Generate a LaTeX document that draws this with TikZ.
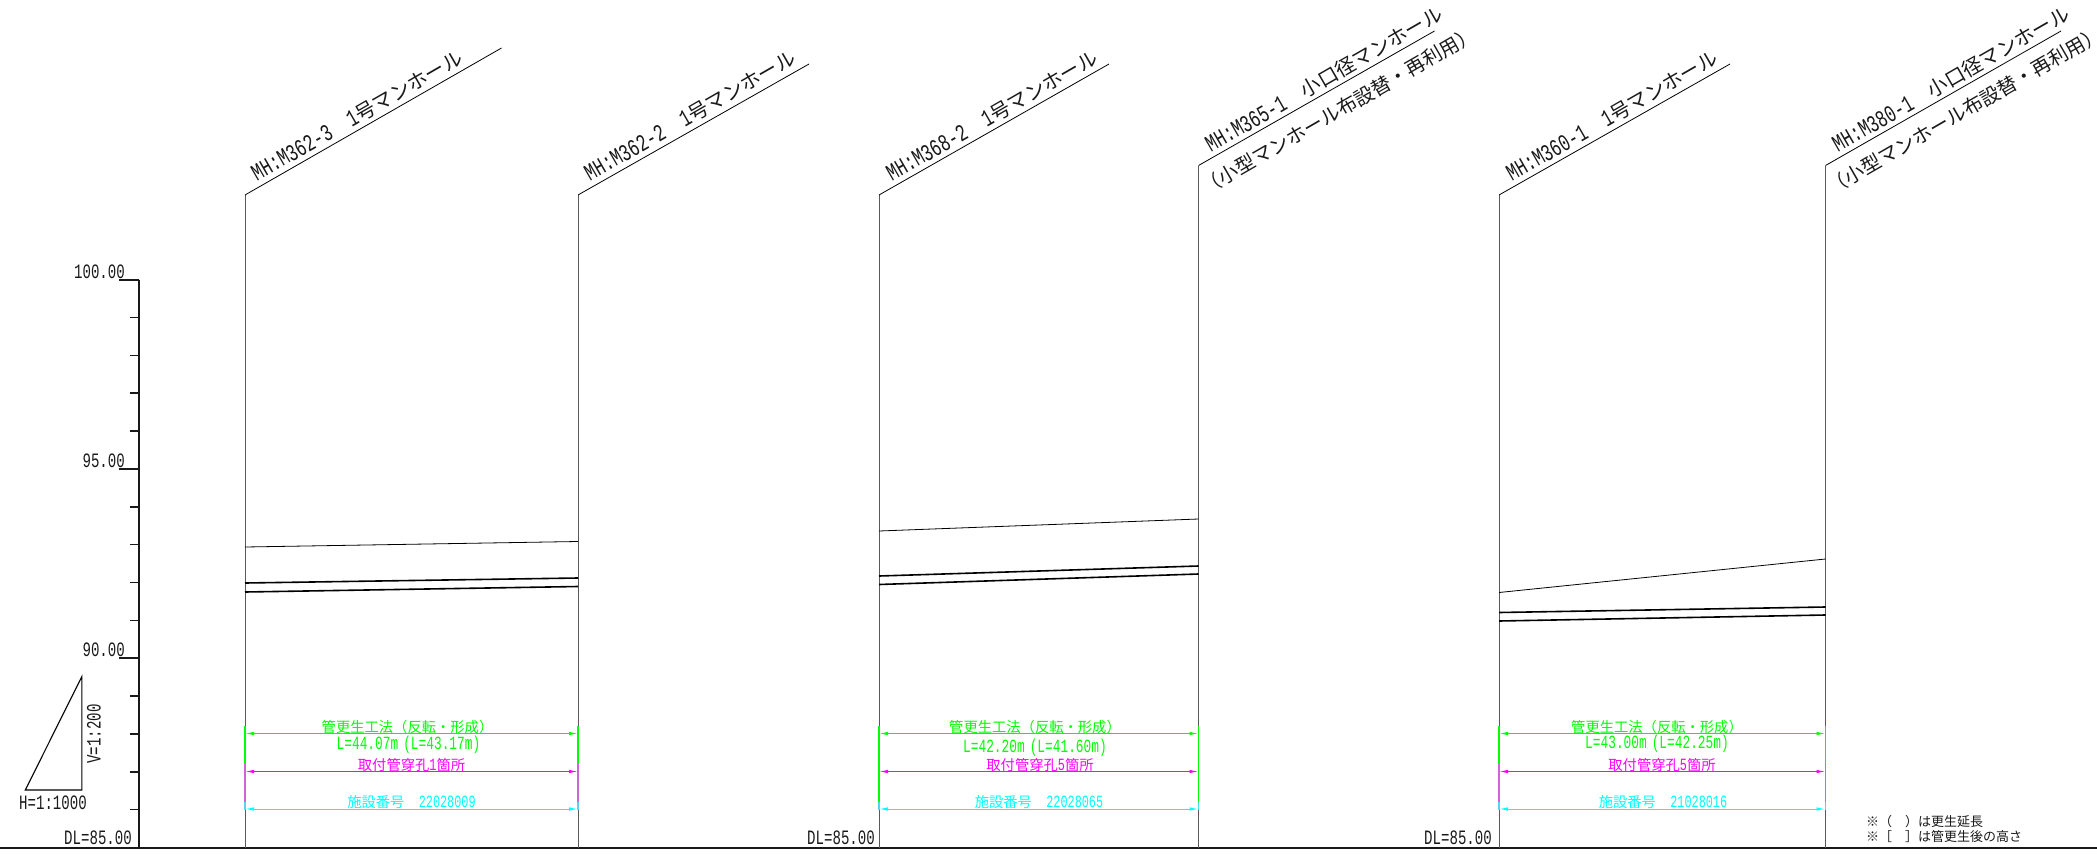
\documentclass[tikz,border=0pt]{standalone}
\usepackage{fontspec}
\usetikzlibrary{arrows.meta}
\setmainfont{Noto Sans CJK JP}
\newfontfamily\la[FakeStretch=0.69,Scale=1.2]{Liberation Mono}
\newcommand{\fsz}[1]{\fontsize{#1}{#1}\selectfont}
\definecolor{gr}{RGB}{0,255,0}
\definecolor{mg}{RGB}{255,0,255}
\definecolor{cy}{RGB}{0,255,255}
\definecolor{mgw}{RGB}{205,100,215}
\definecolor{cyw}{RGB}{80,215,240}
\tikzset{
 txt/.style={inner sep=0pt,text=black!90},
 mhlabel/.style={txt,rotate=30,anchor=base west,font=\fsz{20}},
 sublabel/.style={txt,rotate=30,anchor=center,font=\fsz{19.6}},
 axlabel/.style={txt,anchor=east,font=\fsz{17}\la},
 thin line/.style={line width=0.8pt,black},
 wall/.style={line width=1pt,black!65},
 pipe/.style={line width=1.6pt,black},
 gl/.style={line width=0.8pt,black},
 heavy/.style={line width=1.6pt,black!90},
 dim/.style={line width=1pt,{Latex[length=9pt,width=3.5pt]}-{Latex[length=9pt,width=3.5pt]}},
 ext/.style={line width=1.2pt},
 dt/.style={inner sep=0pt,font=\fsz{14.3}},
 dl/.style={inner sep=0pt,font=\fsz{15.5}\la},
 note/.style={txt,anchor=west,font=\fsz{13}},
}
\begin{document}
\begin{tikzpicture}[x=1pt,y=-1pt]
\useasboundingbox (0,0) rectangle (2097,854);
% baseline and axis
\coordinate (bl) at (0,848); \coordinate (br) at (2097,848);
\draw[heavy] (bl) -- (br);
\coordinate (axt) at (139,279.7); \coordinate (axb) at (139,848);
\draw[heavy] (axt) -- (axb);
\foreach \k/\xs in {0/119,1/130,2/130,3/130,4/130,5/119,6/130,7/130,8/130,9/130,10/119,11/130,12/130,13/130,14/130}{
  \coordinate (tk\k) at (\xs,279.7+37.85*\k);
  \coordinate (tke\k) at (139,279.7+37.85*\k);
  \draw[heavy] (tk\k) -- (tke\k);
}
\node[axlabel] (l100) at (125,271.5) {100.00};
\node[axlabel] (l95) at (125,460.7) {95.00};
\node[axlabel] (l90) at (125,650) {90.00};
\node[axlabel] (dl1) at (132,838) {DL=85.00};
\node[axlabel] (dl2) at (875,838) {DL=85.00};
\node[axlabel] (dl3) at (1492,838) {DL=85.00};
% scale triangle
\coordinate (ta) at (25.3,790); \coordinate (tb) at (81.8,676.7); \coordinate (tc) at (81.8,790);
\draw[line width=1.1pt] (ta) -- (tb) -- (tc) -- cycle;
\node[txt,font=\fsz{17}\la] (hs) at (53,802.7) {H=1:1000};
\node[txt,font=\fsz{17}\la,rotate=90] (vs) at (94,734) {V=1:200};
% manhole walls: x, top y, end
\foreach \n/\x/\ty/\ex/\ey in {a/245/195/501.5/48,b/578/195/809/64,c/879/195/1109/64,d/1198.5/165.5/1434.5/31,e/1499/195/1730/64,f/1825.5/165.5/2061/31}{
  \coordinate (\n b) at (\x,848);
  \coordinate (\n m) at (\x,\ty);
  \coordinate (\n e) at (\ex,\ey);
  \draw[wall] (\n b) -- (\n m);
  \draw[thin line] (\n m) -- (\n e);
}
% labels
\node[mhlabel] (ma) at (257,182) {{\la MH:M362-3}　{\la 1}号マンホール};
\node[mhlabel] (mb) at (590,182) {{\la MH:M362-2}　{\la 1}号マンホール};
\node[mhlabel] (mc) at (892,182) {{\la MH:M368-2}　{\la 1}号マンホール};
\node[mhlabel] (md) at (1211,153) {{\la MH:M365-1}　小口径マンホール};
\node[sublabel] (sd) at (1338.5,110.5) {（小型マンホール布設替・再利用）};
\node[mhlabel] (me) at (1512,182) {{\la MH:M360-1}　{\la 1}号マンホール};
\node[mhlabel] (mf) at (1838,153) {{\la MH:M380-1}　小口径マンホール};
\node[sublabel] (sf) at (1965,110.5) {（小型マンホール布設替・再利用）};
% pipes
\foreach \n/\xa/\xb/\ga/\gb/\pa/\pb/\qa/\qb in {p/245/578/547/541.5/583/578/592/586.5,q/879/1198.5/531/519/576/566/584.5/574,r/1499/1825.5/592.5/559/612.5/607/621/615}{
  \coordinate (\n ga) at (\xa,\ga); \coordinate (\n gb) at (\xb,\gb);
  \coordinate (\n ua) at (\xa,\pa); \coordinate (\n ub) at (\xb,\pb);
  \coordinate (\n la) at (\xa,\qa); \coordinate (\n lb) at (\xb,\qb);
  \draw[gl] (\n ga) -- (\n gb);
  \draw[pipe] (\n ua) -- (\n ub);
  \draw[pipe] (\n la) -- (\n lb);
}
% extension ticks and dimension lines
\foreach \n/\xa/\xb/\mc in {p/245/578/mgw,q/879/1198.5/gr,r/1499/1825.5/mgw}{
  \foreach \s/\x in {a/\xa,b/\xb}{
    \coordinate (\n\s1) at (\x,726); \coordinate (\n\s2) at (\x,764);
    \coordinate (\n\s3) at (\x,801.5); \coordinate (\n\s4) at (\x,810);
    \draw[ext,gr] (\n\s1) -- (\n\s2);
    \draw[ext,\mc] (\n\s2) -- (\n\s3);
    \draw[ext,cyw] (\n\s3) -- (\n\s4);
  }
  \coordinate (\n d1a) at (\xa,733.5); \coordinate (\n d1b) at (\xb,733.5);
  \coordinate (\n d2a) at (\xa,771.5); \coordinate (\n d2b) at (\xb,771.5);
  \coordinate (\n d3a) at (\xa,809); \coordinate (\n d3b) at (\xb,809);
  \draw[dim,gr] (\n d1a) -- (\n d1b);
  \draw[dim,mg] (\n d2a) -- (\n d2b);
  \draw[dim,cy] (\n d3a) -- (\n d3b);
}
% column 1
\node[dt,text=gr] (t1a) at (407.5,727) {管更生工法（反転・形成）};
\node[dl,text=gr] (t1b) at (408.5,745) {L=44.07m\hspace{5pt}(L=43.17m)};
\node[dt,text=mg] (t1c) at (411.5,765) {取付管穿孔{\la 1}箇所};
\node[dt,text=cy] (t1d) at (411.5,801.7) {施設番号　{\la 22028009}};
% column 2
\node[dt,text=gr] (t2a) at (1035,727) {管更生工法（反転・形成）};
\node[dl,text=gr] (t2b) at (1035,747.5) {L=42.20m\hspace{5pt}(L=41.60m)};
\node[dt,text=mg] (t2c) at (1040,765) {取付管穿孔{\la 5}箇所};
\node[dt,text=cy] (t2d) at (1039,801.7) {施設番号　{\la 22028065}};
% column 3
\node[dt,text=gr] (t3a) at (1657,727) {管更生工法（反転・形成）};
\node[dl,text=gr] (t3b) at (1657,744) {L=43.00m\hspace{5pt}(L=42.25m)};
\node[dt,text=mg] (t3c) at (1662,765) {取付管穿孔{\la 5}箇所};
\node[dt,text=cy] (t3d) at (1663,801.7) {施設番号　{\la 21028016}};
% notes
\node[note] (n1) at (1866,821.7) {※（　）は更生延長};
\node[note] (n2) at (1866,836.7) {※［　］は管更生後の高さ};
\end{tikzpicture}
\end{document}
